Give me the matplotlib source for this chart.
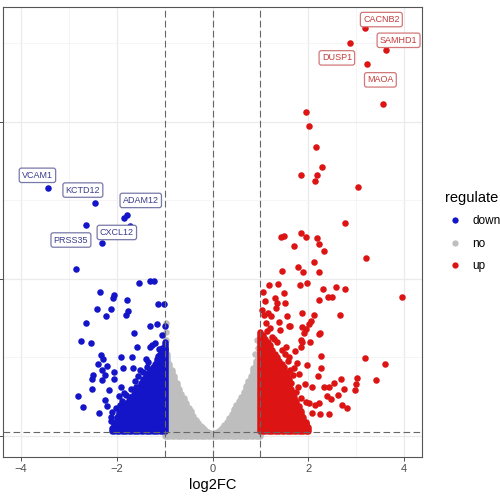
import matplotlib
matplotlib.use("Agg")
import matplotlib.pyplot as plt
from matplotlib.lines import Line2D

plt.rcParams['font.family'] = ['Liberation Sans', 'DejaVu Sans']

# colours per regulate group
COL_DOWN = '#1414C8'
COL_NO = '#BEBEBE'
COL_UP = '#DC1414'

# scattered "up" genes (log2FC, -log10 p)
up_x = [3.18, 2.87, 3.62, 3.24, 3.56, 1.95, 2.01, 2.17, 2.28, 1.86, 2.18, 2.15,
        3.04, 2.78, 1.44, 1.50, 1.86, 1.95, 2.19, 1.71, 2.22, 2.34, 3.21, 2.12,
        1.78, 1.89, 1.46, 2.22, 1.19, 1.37, 1.83, 1.98, 2.32, 2.59, 2.77, 2.41,
        2.50, 2.22, 3.97, 1.49, 1.51, 1.35, 1.33, 1.16, 1.23, 1.55, 1.87, 2.13,
        2.66, 2.06, 2.01, 1.39, 1.62, 1.96, 1.42, 2.22, 1.14, 1.84, 1.86, 1.53,
        2.04, 2.27, 3.19, 3.60, 1.97, 2.26, 1.77, 1.70, 1.81, 2.20, 3.03, 3.42,
        2.69, 3.01, 1.93, 2.07, 2.33, 2.44, 2.55, 2.97, 2.75, 2.63, 2.47, 2.40,
        2.71, 2.82, 2.15, 2.22, 1.95, 2.01, 2.08, 2.25, 2.44, 1.95, 1.60, 1.88,
        1.91, 2.24, 1.88, 1.25, 1.72, 1.65, 1.75, 1.85, 1.60, 1.30, 1.10, 1.05,
        1.12, 1.03, 1.08, 1.45, 1.58, 1.68, 1.34, 1.52, 1.78, 1.62, 1.20, 1.28]
up_y = [130.0, 125.0, 123.0, 118.5, 105.7, 103.2, 98.7, 92.0, 85.8, 83.2, 83.0, 81.3,
        79.4, 67.9, 63.5, 63.7, 64.5, 63.5, 63.1, 60.6, 61.0, 59.0, 56.6, 55.3,
        53.9, 52.1, 52.4, 52.2, 48.2, 48.4, 48.0, 48.8, 46.9, 47.4, 46.7, 44.3,
        44.3, 43.3, 44.2, 45.6, 42.2, 42.2, 40.6, 39.1, 38.2, 38.2, 39.1, 38.4,
        38.5, 36.7, 35.7, 36.4, 35.0, 34.1, 33.8, 32.5, 33.5, 30.4, 28.4, 28.4,
        30.0, 25.5, 24.7, 22.9, 22.6, 21.5, 23.1, 21.5, 19.7, 19.1, 18.6, 17.8,
        18.2, 16.5, 16.6, 15.7, 15.5, 15.5, 16.8, 14.6, 14.9, 13.1, 11.8, 12.7,
        9.9, 9.0, 9.9, 10.4, 10.9, 10.4, 7.2, 6.9, 7.0, 4.0, 35.0, 34.8,
        32.7, 32.7, 30.0, 31.6, 27.0, 17.0, 14.0, 12.0, 25.0, 44.0, 43.0, 46.0,
        36.0, 40.0, 38.5, 27.5, 24.0, 19.5, 30.0, 26.0, 15.5, 21.0, 34.5, 31.0]

# scattered "down" genes
down_x = [-3.43, -2.45, -1.78, -1.86, -1.72, -2.64, -2.32, -2.85, -1.53, -1.30,
          -1.23, -2.36, -2.09, -2.05, -1.78, -2.41, -2.13, -2.23, -1.76, -1.80,
          -1.14, -1.02, -2.64, -1.30, -1.16, -1.65, -2.75, -2.53, -1.58, -1.31,
          -1.26, -1.12, -2.33, -2.29, -1.91, -1.69, -1.40, -1.14, -2.40, -2.20,
          -1.87, -1.67, -1.52, -1.37, -2.30, -2.06, -2.24, -2.06, -2.50, -2.51,
          -2.30, -2.51, -2.17, -1.92, -1.84, -1.59, -2.82, -2.24, -1.96, -1.72,
          -2.71, -2.20, -1.94, -2.37, -2.13, -2.12, -1.89, -1.75, -1.65, -1.00,
          -1.21, -1.00, -1.05, -1.45, -1.62, -1.80, -2.02, -1.55, -1.35, -1.70,
          -1.90, -2.10]
down_y = [79.0, 74.2, 70.4, 69.4, 67.0, 67.2, 61.5, 53.1, 48.8, 49.5,
          49.5, 45.8, 43.8, 44.9, 43.3, 40.5, 40.3, 38.3, 39.9, 38.5,
          42.0, 42.0, 36.1, 35.0, 35.6, 32.9, 30.3, 29.7, 28.2, 28.4,
          29.0, 27.6, 25.9, 24.6, 25.3, 25.1, 24.6, 25.5, 22.8, 22.3,
          21.5, 21.7, 21.0, 21.9, 21.0, 20.5, 19.4, 18.2, 19.4, 18.1,
          17.8, 15.0, 14.6, 15.7, 13.8, 15.7, 12.7, 11.5, 12.7, 12.3,
          9.3, 9.6, 9.9, 7.2, 6.0, 4.8, 6.7, 7.7, 9.3, 27.6,
          29.7, 35.0, 32.0, 20.5, 17.5, 13.0, 9.0, 19.0, 23.5, 15.0,
          11.0, 7.5]

# scattered "no" genes above the dense V
no_x = [-0.98, -0.98, -0.97, 0.92, 0.96, 0.88]
no_y = [36.0, 33.0, 30.6, 30.6, 28.0, 26.0]

# dense clouds: column position and top of the packed dots
no_col_x = [-1.00, -0.95, -0.90, -0.85, -0.80, -0.75, -0.70, -0.65, -0.60, -0.55,
            -0.50, -0.45, -0.40, -0.35, -0.30, -0.25, -0.20, -0.15, -0.10, -0.05,
            0.00, 0.05, 0.10, 0.15, 0.20, 0.25, 0.30, 0.35, 0.40, 0.45,
            0.50, 0.55, 0.60, 0.65, 0.70, 0.75, 0.80, 0.85, 0.90, 0.95, 1.00]
no_col_top = [28.0, 26.0, 23.0, 21.0, 19.0, 17.0, 15.0, 13.5, 12.0, 10.5,
              9.0, 7.8, 6.5, 5.2, 4.0, 3.2, 2.5, 1.8, 1.2, 0.8,
              0.5, 0.8, 1.2, 1.8, 2.5, 3.4, 4.5, 5.8, 7.0, 8.5,
              10.0, 11.2, 12.5, 14.0, 16.0, 17.5, 19.0, 21.5, 24.0, 26.0, 28.0]

up_col_x = [1.00, 1.05, 1.10, 1.15, 1.20, 1.25, 1.30, 1.35, 1.40, 1.45, 1.50,
            1.55, 1.60, 1.65, 1.70, 1.75, 1.80, 1.85, 1.90, 1.95, 2.00]
up_col_top = [33.0, 32.0, 31.0, 30.0, 29.0, 27.5, 26.0, 25.0, 24.0, 23.0, 22.0,
              20.0, 18.0, 15.0, 12.5, 11.0, 9.5, 8.0, 6.0, 4.5, 3.0]

down_col_x = [-1.00, -1.05, -1.10, -1.15, -1.20, -1.25, -1.30, -1.35, -1.40, -1.45,
              -1.50, -1.55, -1.60, -1.65, -1.70, -1.75, -1.80, -1.85, -1.90, -1.95,
              -2.00, -2.05, -2.10]
down_col_top = [30.0, 28.0, 26.0, 24.5, 23.0, 22.0, 21.0, 20.0, 19.0, 18.0,
                17.0, 15.5, 14.5, 13.5, 12.5, 11.5, 10.5, 9.5, 8.5, 7.5,
                6.0, 4.0, 2.5]

# labelled genes
up_genes = ['CACNB2', 'DUSP1', 'SAMHD1', 'MAOA']
down_genes = ['VCAM1', 'KCTD12', 'ADAM12', 'PRSS35', 'CXCL12']
down_gene_idx = [0, 1, 2, 5, 6]
# where the repelled label boxes sit
up_label_pos = [(3.53, 132.6), (2.60, 120.4), (3.89, 126.0), (3.51, 113.4)]
down_label_pos = [(-3.66, 83.0), (-2.71, 78.3), (-1.50, 75.0), (-2.96, 62.4), (-2.00, 64.8)]

DOT = 22
COL_LW = 4.7

fig = plt.figure(figsize=(5, 5), dpi=100)
ax = fig.add_axes([0.006, 0.086, 0.838, 0.9])

ax.set_xlim(-4.38, 4.38)
ax.set_ylim(-6.7, 136.6)
ax.set_xticks([-4, -2, 0, 2, 4])
ax.set_xticks([-3, -1, 1, 3], minor=True)
# y tick labels fall outside the cropped picture in the reference
ax.set_yticks([0, 50, 100])
ax.set_yticklabels([])
ax.set_yticks([25, 75, 125], minor=True)
ax.grid(which='major', color='#EBEBEB', lw=0.9, zorder=0)
ax.grid(which='minor', color='#F2F2F2', lw=0.5, zorder=0)
ax.set_axisbelow(True)
ax.tick_params(which='major', length=3, width=0.6, color='#333333',
               labelsize=8, labelcolor='#4D4D4D', pad=2)
ax.tick_params(which='minor', length=0)
for sp in ax.spines.values():
    sp.set_color('#555555')
    sp.set_linewidth(0.8)
ax.set_xlabel('log2FC', fontsize=10.5, labelpad=3)

# dense packed regions
ax.vlines(no_col_x, 0, no_col_top, colors=COL_NO, lw=COL_LW, capstyle='round', zorder=2)
ax.scatter(no_x, no_y, s=DOT, color=COL_NO, lw=0, zorder=2)
ax.vlines(down_col_x, 1.5, down_col_top, colors=COL_DOWN, lw=COL_LW, capstyle='round', zorder=2)
ax.vlines(up_col_x, 1.5, up_col_top, colors=COL_UP, lw=COL_LW, capstyle='round', zorder=2)
ax.scatter(down_x, down_y, s=DOT, color=COL_DOWN, lw=0, zorder=2)
ax.scatter(up_x, up_y, s=DOT, color=COL_UP, lw=0, zorder=2)

# threshold lines
dash = (0, (6, 3))
for xv in [-1, 0, 1]:
    ax.axvline(xv, color='#666666', lw=0.8, ls=dash, zorder=3)
ax.axhline(1.3, color='#666666', lw=0.8, ls=dash, zorder=3)

# gene labels
for i, g in enumerate(up_genes):
    ax.annotate(g, (up_x[i], up_y[i]), xytext=up_label_pos[i], textcoords='data',
                ha='center', va='center', fontsize=6.5, color='#C43C3C', zorder=4,
                bbox=dict(boxstyle='round,pad=0.3,rounding_size=0.25', fc='white',
                          ec='#D27878', lw=0.9))
for i, g in enumerate(down_genes):
    k = down_gene_idx[i]
    ax.annotate(g, (down_x[k], down_y[k]), xytext=down_label_pos[i], textcoords='data',
                ha='center', va='center', fontsize=6.5, color='#3C3C8C', zorder=4,
                bbox=dict(boxstyle='round,pad=0.3,rounding_size=0.25', fc='white',
                          ec='#7878A8', lw=0.9))

handles = [Line2D([], [], ls='', marker='o', ms=4.5, mec='none', mfc=c)
           for c in [COL_DOWN, COL_NO, COL_UP]]
leg = fig.legend(handles, ['down', 'no', 'up'], title='regulate', loc='upper left',
                 bbox_to_anchor=(0.869, 0.64), frameon=False, fontsize=8.5,
                 title_fontsize=10.5, handletextpad=0.7, labelspacing=0.9,
                 alignment='left', handlelength=1.6)

fig.savefig('out.png', dpi=100)
